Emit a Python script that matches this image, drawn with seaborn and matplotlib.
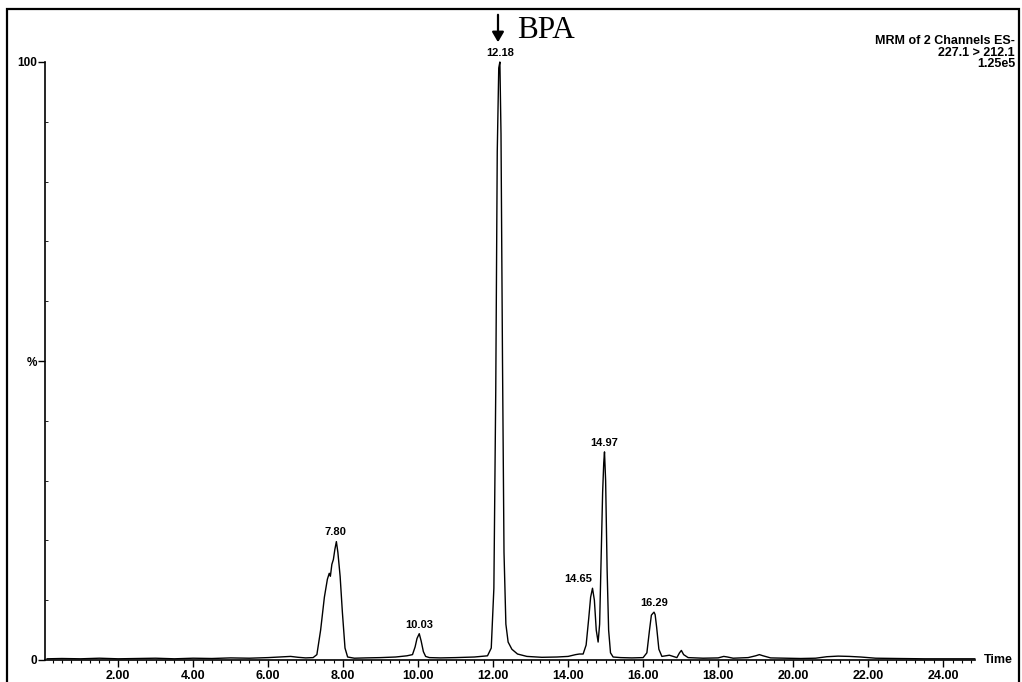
import matplotlib
matplotlib.use("Agg")
import matplotlib.pyplot as plt
from matplotlib.patches import Rectangle, FancyArrowPatch
from matplotlib.ticker import MultipleLocator, FixedLocator
import seaborn as sns
import pandas as pd

# ---- data ----
times = [0.10, 0.5, 1.0, 1.5, 2.0, 2.5, 3.0, 3.5, 4.0, 4.5, 5.0, 5.5, 6.0, 6.3,
         6.6, 6.8, 7.0, 7.2, 7.3, 7.4, 7.5, 7.58, 7.63, 7.66, 7.7, 7.74, 7.78,
         7.82, 7.86, 7.92, 7.98, 8.05, 8.12, 8.3, 8.6, 9.0, 9.4, 9.7, 9.85,
         9.92, 9.97, 10.03, 10.08, 10.14, 10.2, 10.3, 10.6, 11.0, 11.5, 11.85,
         11.95, 12.02, 12.07, 12.11, 12.15, 12.18, 12.21, 12.25, 12.29, 12.34,
         12.4, 12.5, 12.65, 12.9, 13.3, 13.7, 14.0, 14.2, 14.3, 14.4, 14.48,
         14.55, 14.6, 14.65, 14.7, 14.75, 14.8, 14.84, 14.88, 14.92, 14.95,
         14.97, 15.0, 15.04, 15.08, 15.13, 15.2, 15.4, 15.7, 16.0, 16.1, 16.17,
         16.22, 16.26, 16.29, 16.32, 16.36, 16.42, 16.5, 16.7, 16.9, 16.97,
         17.02, 17.08, 17.2, 17.6, 18.0, 18.15, 18.25, 18.4, 18.8, 19.0, 19.1,
         19.2, 19.4, 19.8, 20.2, 20.6, 20.9, 21.2, 21.5, 21.8, 22.2, 22.8, 23.5,
         24.2, 24.85]
intensity = [0.2, 0.25, 0.2, 0.3, 0.2, 0.25, 0.3, 0.2, 0.3, 0.25, 0.35, 0.3, 0.4, 0.5,
             0.6, 0.45, 0.35, 0.4, 0.9, 5.0, 10.5, 13.5, 14.5, 14.0, 16.0, 16.8, 18.5,
             19.8, 18.0, 14.0, 8.0, 2.0, 0.5, 0.3, 0.35, 0.4, 0.5, 0.7, 0.9,
             2.2, 3.6, 4.4, 3.2, 1.4, 0.6, 0.4, 0.35, 0.4, 0.5, 0.7,
             2.0, 12.0, 45.0, 85.0, 99.0, 100.0, 88.0, 50.0, 18.0, 6.0,
             3.0, 1.8, 1.0, 0.6, 0.45, 0.5, 0.6, 0.9, 1.0, 1.0, 2.5,
             7.0, 10.5, 12.0, 10.0, 5.0, 3.0, 6.0, 17.0, 28.0, 33.0,
             34.8, 30.0, 15.0, 5.0, 1.2, 0.5, 0.4, 0.35, 0.4, 1.2, 5.0,
             7.5, 7.8, 8.0, 7.6, 5.5, 1.8, 0.6, 0.8, 0.4, 1.2,
             1.6, 0.9, 0.4, 0.3, 0.35, 0.6, 0.5, 0.3, 0.4, 0.7, 0.9,
             0.7, 0.35, 0.3, 0.25, 0.3, 0.55, 0.65, 0.6, 0.5, 0.3, 0.25, 0.2,
             0.2, 0.2]

peak_times = [7.80, 10.03, 12.18, 14.65, 14.97, 16.29]
peak_heights = [19.8, 4.4, 100.0, 12.0, 34.8, 8.0]
peak_labels = ["7.80", "10.03", "12.18", "14.65", "14.97", "16.29"]

x_ticks = [2, 4, 6, 8, 10, 12, 14, 16, 18, 20, 22, 24]
x_tick_labels = ["2.00", "4.00", "6.00", "8.00", "10.00", "12.00", "14.00",
                 "16.00", "18.00", "20.00", "22.00", "24.00"]
y_ticks = [0, 50, 100]
y_tick_labels = ["0", "%", "100"]

header_lines = ["MRM of 2 Channels ES-", "227.1 > 212.1", "1.25e5"]

# ---- figure ----
sns.set_style("ticks")
plt.rcParams["font.family"] = ["Liberation Sans", "DejaVu Sans"]
plt.rcParams["text.color"] = "black"
plt.rcParams["xtick.color"] = "black"
plt.rcParams["ytick.color"] = "black"
plt.rcParams["xtick.labelcolor"] = "black"
plt.rcParams["ytick.labelcolor"] = "black"

W, H = 1022, 682
fig = plt.figure(figsize=(W / 100, H / 100), dpi=100)
ax = fig.add_axes([45 / W, (H - 660) / H, 930 / W, 598 / H])

df = pd.DataFrame({"time": times, "intensity": intensity})
sns.lineplot(data=df, x="time", y="intensity", ax=ax, color="black",
             linewidth=1.0, estimator=None, sort=False)
for ln in ax.lines:
    ln.set_clip_on(False)

ax.set_xlim(0.05, 24.85)
ax.set_ylim(0, 100)
ax.set_xlabel("")
ax.set_ylabel("")
sns.despine(ax=ax)
for sp in ("left", "bottom"):
    ax.spines[sp].set_linewidth(1.2)
    ax.spines[sp].set_color("black")

ax.xaxis.set_major_locator(FixedLocator(x_ticks))
ax.set_xticklabels(x_tick_labels, fontsize=9, fontweight="bold", color="black")
ax.xaxis.set_minor_locator(MultipleLocator(0.25))
ax.tick_params(axis="x", which="major", direction="out", length=5, width=1.0,
               pad=2, color="black")
ax.tick_params(axis="x", which="minor", direction="out", length=2.5, width=0.8,
               color="black")

ax.yaxis.set_major_locator(FixedLocator(y_ticks))
ax.set_yticklabels(y_tick_labels, fontsize=8.5, fontweight="bold", color="black")
ax.yaxis.set_minor_locator(MultipleLocator(10))
ax.tick_params(axis="y", which="major", direction="out", length=5, width=1.0,
               pad=1, color="black")
ax.tick_params(axis="y", which="minor", direction="in", length=2, width=0.6,
               color="black")

ax.text(1.01, 0.0, "Time", transform=ax.transAxes, ha="left", va="center",
        fontsize=9, fontweight="bold", color="black")

offsets = {"14.65": (-10, 3)}
for t, h, lab in zip(peak_times, peak_heights, peak_labels):
    dx, dy = offsets.get(lab, (0, 3))
    ax.annotate(lab, xy=(t, h), xytext=(dx, dy), textcoords="offset points",
                ha="center", va="bottom", fontsize=8, fontweight="bold",
                color="black", annotation_clip=False)

# BPA marker arrow and label
fig.patches.append(FancyArrowPatch(
    (498 / W, 1 - 12 / H), (498 / W, 1 - 45 / H), transform=fig.transFigure,
    arrowstyle="-|>,head_length=6,head_width=3.5", color="black", linewidth=1.6,
    mutation_scale=1))
fig.text(517 / W, 1 - 30 / H, "BPA", ha="left", va="center", color="black",
         fontsize=22.5, family=["Liberation Serif", "DejaVu Serif"])

for i, line in enumerate(header_lines):
    fig.text(1015 / W, 1 - (41 + 11.5 * i) / H, line, ha="right", va="center",
             fontsize=9, fontweight="bold", color="black")

fig.patches.append(Rectangle((7 / W, -0.02), (1019 - 7) / W, (H - 9) / H + 0.02,
                             transform=fig.transFigure, fill=False,
                             edgecolor="black", linewidth=1.6))

fig.savefig("out.png", dpi=100, facecolor="white")
